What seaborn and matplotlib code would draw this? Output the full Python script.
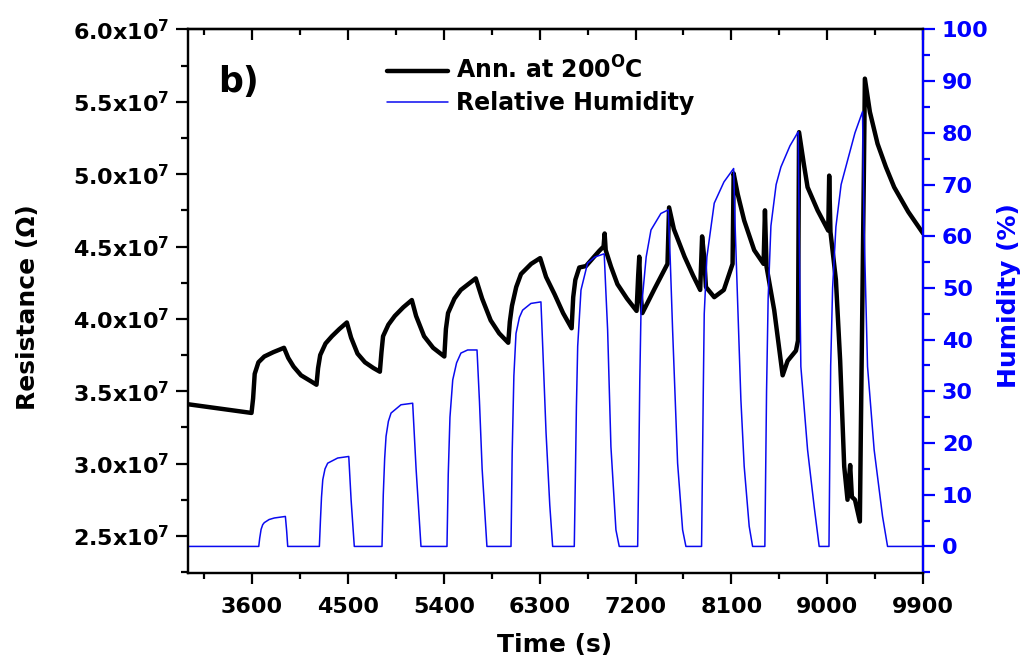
import matplotlib
matplotlib.use("Agg")
import matplotlib.pyplot as plt
from matplotlib.ticker import MultipleLocator, FuncFormatter
from matplotlib.lines import Line2D
import pandas as pd
import seaborn as sns

# Resistance of the film annealed at 200 C (values in units of 1e7 Ohm)
time_res = [3000, 3595, 3610, 3625, 3660, 3715, 3800, 3900, 3940, 3990, 4060, 4150, 4205,
            4220, 4240, 4290, 4350, 4420, 4490, 4530, 4590, 4660, 4740, 4800,
            4815, 4830, 4880, 4940, 5020, 5100, 5140, 5215, 5300, 5405,
            5420, 5440, 5500, 5560, 5630, 5700, 5760, 5840, 5920, 6005,
            6020, 6040, 6080, 6125, 6220, 6305, 6360, 6440, 6520, 6600,
            6615, 6635, 6672, 6735, 6800, 6860, 6900, 6910, 6920, 6970, 7030, 7120, 7210,
            7225, 7235, 7245, 7264, 7380, 7500, 7515, 7560, 7660, 7740, 7807,
            7825, 7845, 7861, 7939, 8029, 8111, 8121, 8160, 8220, 8314, 8402,
            8415, 8430, 8502, 8581, 8628, 8706, 8725, 8735, 8780, 8815, 8909, 9009,
            9018, 9030, 9081, 9121, 9159, 9190, 9215, 9231, 9260, 9306,
            9315, 9345, 9353, 9400, 9472, 9550, 9628, 9760, 9900]
resistance = [3.41, 3.35, 3.45, 3.62, 3.70, 3.74, 3.77, 3.80, 3.73, 3.67, 3.61, 3.57, 3.545,
              3.66, 3.75, 3.83, 3.88, 3.93, 3.975, 3.87, 3.76, 3.70, 3.66, 3.635,
              3.77, 3.88, 3.96, 4.02, 4.08, 4.13, 4.02, 3.88, 3.80, 3.74,
              3.93, 4.04, 4.14, 4.20, 4.24, 4.28, 4.14, 3.99, 3.90, 3.835,
              3.98, 4.09, 4.22, 4.31, 4.38, 4.42, 4.29, 4.17, 4.04, 3.935,
              4.15, 4.27, 4.355, 4.365, 4.42, 4.47, 4.50, 4.59, 4.475, 4.36, 4.24, 4.14, 4.055,
              4.30, 4.43, 4.20, 4.04, 4.21, 4.38, 4.77, 4.62, 4.43, 4.30, 4.20,
              4.57, 4.42, 4.22, 4.15, 4.20, 4.38, 5.005, 4.86, 4.68, 4.475, 4.38,
              4.75, 4.36, 4.06, 3.61, 3.71, 3.78, 3.85, 5.29, 5.07, 4.91, 4.75, 4.61,
              4.99, 4.60, 4.27, 3.71, 2.98, 2.75, 2.99, 2.77, 2.75, 2.60,
              3.21, 5.10, 5.66, 5.43, 5.21, 5.05, 4.91, 4.74, 4.59]

# Relative humidity pulses (%)
time_rh = [3000, 3663, 3672, 3685, 3700, 3715, 3760, 3809, 3913, 3925, 3935,
           4232, 4242, 4252, 4264, 4285, 4310, 4404, 4508, 4530, 4560,
           4820, 4832, 4845, 4858, 4880, 4905, 4998, 5108, 5140, 5186,
           5430, 5442, 5458, 5484, 5520, 5561, 5624, 5712, 5735, 5760, 5805,
           6031, 6042, 6058, 6078, 6110, 6140, 6218, 6312, 6330, 6360, 6395, 6422,
           6625, 6635, 6645, 6657, 6688, 6750, 6820, 6906, 6920, 6938, 6969, 7016, 7047,
           7220, 7230, 7240, 7251, 7300, 7345, 7438, 7507, 7525, 7548, 7595, 7642, 7673,
           7820, 7828, 7836, 7845, 7870, 7939, 8030, 8121, 8135, 8158, 8189, 8220, 8267, 8299,
           8414, 8422, 8430, 8445, 8471, 8520, 8565, 8650, 8727, 8737, 8752, 8815, 8877, 8924,
           9016, 9024, 9032, 9050, 9081, 9130, 9191, 9260, 9331, 9345, 9378, 9440, 9519,
           9566, 9900]
humidity = [0, 0, 1.6, 3.3, 4.2, 4.6, 5.2, 5.5, 5.8, 3.0, 0,
            0, 5, 9.5, 12.9, 15.0, 16.1, 17.1, 17.4, 9, 0,
            0, 10, 17, 21.3, 24.2, 25.8, 27.4, 27.7, 15, 0,
            0, 14, 25, 32.2, 35.5, 37.4, 38.0, 38.0, 28, 15, 0,
            0, 18, 33, 41.2, 44.3, 45.7, 47.0, 47.3, 38, 22, 8, 0,
            0, 13, 27, 38.7, 49.6, 54.8, 56.0, 56.6, 50, 41.9, 19.3, 3.2, 0,
            0, 15, 32, 45.1, 56, 61.2, 64.4, 65.1, 56, 41.9, 16.1, 3.2, 0,
            0, 15, 30, 45, 56, 66.4, 70.5, 73.1, 62, 47.6, 28.4, 15.5, 3.9, 0,
            0, 15, 30, 48, 62, 70, 73.4, 77.5, 80.2, 60, 34.8, 18.7, 7.7, 0,
            0, 18, 35, 50, 61.8, 70, 74.7, 80, 84.1, 62, 34.8, 18.7, 5.8,
            0, 0]

res_df = pd.DataFrame({"Time (s)": time_res, "Resistance": [r * 1e7 for r in resistance]})
rh_df = pd.DataFrame({"Time (s)": time_rh, "Humidity": humidity})

sns.set_style("ticks")
plt.rcParams["font.family"] = ["DejaVu Sans"]
plt.rcParams["font.weight"] = "bold"
plt.rcParams["mathtext.default"] = "bf"
for key in ["text.color", "axes.labelcolor", "xtick.color", "ytick.color", "axes.edgecolor"]:
    plt.rcParams[key] = "black"

fig, ax = plt.subplots(figsize=(10.28, 6.69), dpi=100)
fig.subplots_adjust(left=0.183, right=0.898, top=0.956, bottom=0.1435)
ax2 = ax.twinx()

sns.lineplot(data=rh_df, x="Time (s)", y="Humidity", ax=ax2, color="#0a0af0",
             linewidth=1.1, estimator=None)
sns.lineplot(data=res_df, x="Time (s)", y="Resistance", ax=ax, color="black",
             linewidth=3.2, estimator=None)

# axes limits and ticks
ax.set_xlim(3000, 9900)
ax.set_ylim(2.244e7, 6.0e7)
ax2.set_ylim(-5.14, 100)
ax.xaxis.set_major_locator(MultipleLocator(900))
ax.xaxis.set_minor_locator(MultipleLocator(450))
ax.yaxis.set_major_locator(MultipleLocator(0.5e7))
ax.yaxis.set_minor_locator(MultipleLocator(0.25e7))
ax2.yaxis.set_major_locator(MultipleLocator(10))
ax2.yaxis.set_minor_locator(MultipleLocator(5))
ax.yaxis.set_major_formatter(FuncFormatter(lambda v, p: f"{v / 1e7:.1f}x10$^{{7}}$"))

ax.tick_params(axis="x", which="both", direction="out", labelsize=16,
               width=1.6, pad=9, colors="black")
ax.tick_params(axis="x", which="major", length=8)
ax.tick_params(axis="x", which="minor", length=4)
ax.tick_params(axis="y", which="both", direction="out", labelsize=16, width=1.6, pad=5,
               colors="black")
ax.tick_params(axis="y", which="major", length=8.5)
ax.tick_params(axis="y", which="minor", length=5)
ax2.tick_params(axis="y", which="both", direction="out", labelsize=16, width=1.6, pad=5,
                colors="blue")
ax2.tick_params(axis="y", which="major", length=8.5)
ax2.tick_params(axis="y", which="minor", length=5)

# top ticks point inwards
secx = ax.secondary_xaxis("top")
secx.xaxis.set_major_locator(MultipleLocator(900))
secx.xaxis.set_minor_locator(MultipleLocator(450))
secx.tick_params(axis="x", which="both", direction="in", labeltop=False, width=1.6,
                 colors="black")
secx.tick_params(axis="x", which="major", length=8)
secx.tick_params(axis="x", which="minor", length=4)

for s in ax.spines.values():
    s.set_linewidth(1.6)
    s.set_color("black")
for s in ax2.spines.values():
    s.set_linewidth(1.6)
secx.spines["top"].set_linewidth(1.6)
secx.spines["top"].set_color("black")
ax2.spines["right"].set_color("blue")

ax.set_xlabel("Time (s)", fontsize=18, fontweight="bold", color="black")
ax.set_ylabel("Resistance (Ω)", fontsize=18, fontweight="bold", color="black")
ax2.set_ylabel("Humidity (%)", fontsize=18, fontweight="bold", color="blue")
ax.xaxis.set_label_coords(0.499, -0.11)
ax.yaxis.set_label_coords(-0.202, 0.49)
ax2.yaxis.set_label_coords(1.10, 0.51)

ax.text(0.041, 0.935, "b)", transform=ax.transAxes, fontsize=25, fontweight="bold",
        va="top", ha="left", color="black")

handles = [Line2D([], [], color="black", linewidth=3.2),
           Line2D([], [], color="#0a0af0", linewidth=1.1)]
labels = ["Ann. at 200$^{O}$C", "Relative Humidity"]
leg = ax2.legend(handles, labels, loc="upper left", bbox_to_anchor=(0.27, 0.95),
                 frameon=False, fontsize=17, handlelength=2.6, handletextpad=0.35,
                 labelspacing=0.3, borderpad=0, borderaxespad=0)
for t in leg.get_texts():
    t.set_color("black")

fig.savefig("out.png", dpi=100)
